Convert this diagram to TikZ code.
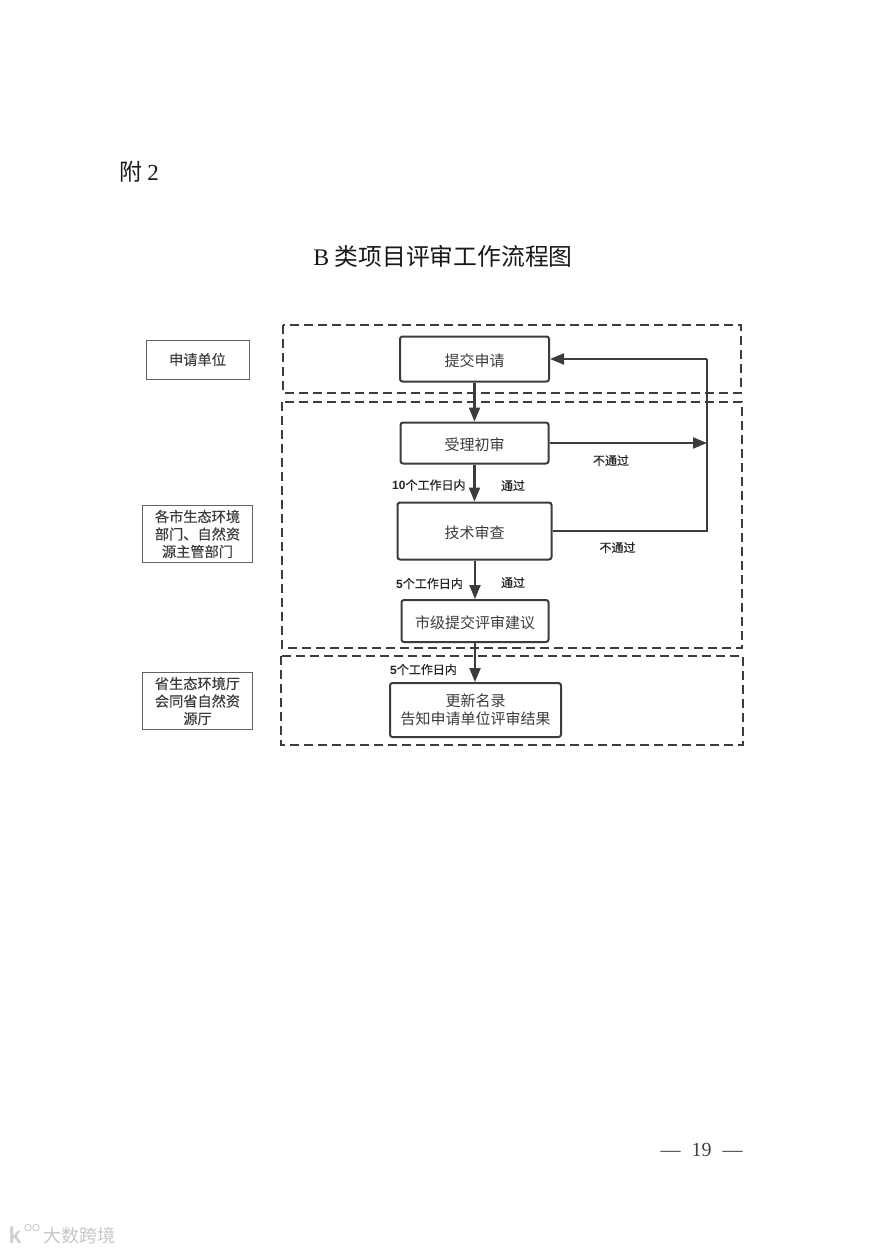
\documentclass[tikz,border=0pt]{standalone}
\usepackage{fontspec}
\setmainfont{Liberation Serif}
\newfontfamily\cjk{Noto Sans CJK SC}
\newfontfamily\cjkm[FakeBold=0.35]{Noto Sans CJK SC}
\newfontfamily\lat{Liberation Sans}
\usetikzlibrary{arrows.meta}
\definecolor{ink}{HTML}{3C3C3C}
\newcommand{\lowertext}[1]{\vphantom{#1}\smash{\raisebox{-1.6pt}{#1}}}
\tikzset{
  x=1pt,y=-1pt,
  zone/.style={draw=ink,line width=1.7pt,dash pattern=on 9pt off 5pt},
  stepbox/.style={draw=ink,line width=2pt,rounded corners=2.5pt,inner sep=0pt,align=center,font=\cjk\fontsize{15}{17.5}\selectfont,text=ink},
  role/.style={draw=ink!80,line width=1pt,inner sep=0pt,align=center,font=\cjkm\fontsize{14.2}{17.5}\selectfont,text=ink},
  link/.style={draw=ink,line width=2.1pt,-{Triangle[length=14pt,width=11pt]}},
  plain/.style={draw=ink,line width=2.1pt},
  note/.style={inner sep=0pt,font=\cjkm\fontsize{12}{14}\selectfont,text=black!85},
  heading/.style={inner sep=0pt,font=\cjk\fontsize{23.8}{28}\selectfont,text=black!90}
}
\begin{document}
\begin{tikzpicture}
\useasboundingbox[fill=white] (0,0) rectangle (885,1252);
% headings
\node[heading,anchor=west,font=\cjk\fontsize{23}{26}\selectfont] (attach) at (119,172) {附 {\rmfamily 2}};
\node[heading] (title) at (443,256) {{\rmfamily B} 类项目评审工作流程图};
% zones
\draw[zone] (283,325) rectangle (741,393);
\draw[zone] (282,402) rectangle (742,648);
\draw[zone] (281,656) rectangle (743,745);
% roles
\node[role,minimum width=103,minimum height=39] (r1) at (197.5,359.5) {申请单位};
\node[role,minimum width=110,minimum height=57] (r2) at (197.5,534) {各市生态环境\\部门、自然资\\源主管部门};
\node[role,minimum width=110,minimum height=57] (r3) at (197.5,701) {省生态环境厅\\会同省自然资\\源厅};
% steps
\node[stepbox,minimum width=149,minimum height=45] (s1) at (474.5,359) {\lowertext{提交申请}};
\node[stepbox,minimum width=148,minimum height=41] (s2) at (474.5,443) {\lowertext{受理初审}};
\node[stepbox,minimum width=154,minimum height=57] (s3) at (474.5,531) {\lowertext{技术审查}};
\node[stepbox,minimum width=147,minimum height=42] (s4) at (475,621) {\lowertext{市级提交评审建议}};
\node[stepbox,minimum width=171,minimum height=54] (s5) at (475.5,710) {更新名录\\告知申请单位评审结果};
% connectors
\coordinate (e1) at (707,359);
\coordinate (e2) at (707,443);
\coordinate (e3) at (707,531);
\draw[link] (s1.south -| 474.5,0) -- (s2.north -| 474.5,0);
\draw[link] (s2.south -| 474.5,0) -- (s3.north -| 474.5,0);
\draw[link] (s3.south -| 475,0) -- (s4.north -| 475,0);
\draw[link] (s4.south -| 475,0) -- (s5.north -| 475,0);
\draw[link] (s2.east) -- (e2);
\draw[plain,line join=miter] (s3.east) -- (e3) -- (e1);
\draw[link] (e1) -- (s1.east);
% labels
\node[note] (n1) at (611,460.5) {不通过};
\node[note] (n2) at (617.5,547.5) {不通过};
\node[note] (n3) at (513,485.5) {通过};
\node[note] (n4) at (513,582.5) {通过};
\node[note,anchor=west] (n5) at (392,485) {{\lat\bfseries 10}个工作日内};
\node[note,anchor=west] (n6) at (396,583.5) {{\lat\bfseries 5}个工作日内};
\node[note,anchor=west] (n7) at (390,669.5) {{\lat\bfseries 5}个工作日内};
% page number
\node[inner sep=0pt,font=\fontsize{20}{24}\selectfont,text=black!75] (pg) at (701.5,1150) {—\hspace{11pt}19\hspace{11pt}—};
% watermark
\node[inner sep=0pt,font=\cjk\fontsize{18}{20}\selectfont,text=black!22] (wm) at (79,1236) {大数跨境};
\node[inner sep=0pt,font=\lat\bfseries\fontsize{23}{24}\selectfont,text=black!18] (wk) at (15,1235) {k};
\draw[black!18,line width=1pt] (28,1227.5) circle (3.2) (36,1227.5) circle (3.2);
\end{tikzpicture}
\end{document}
